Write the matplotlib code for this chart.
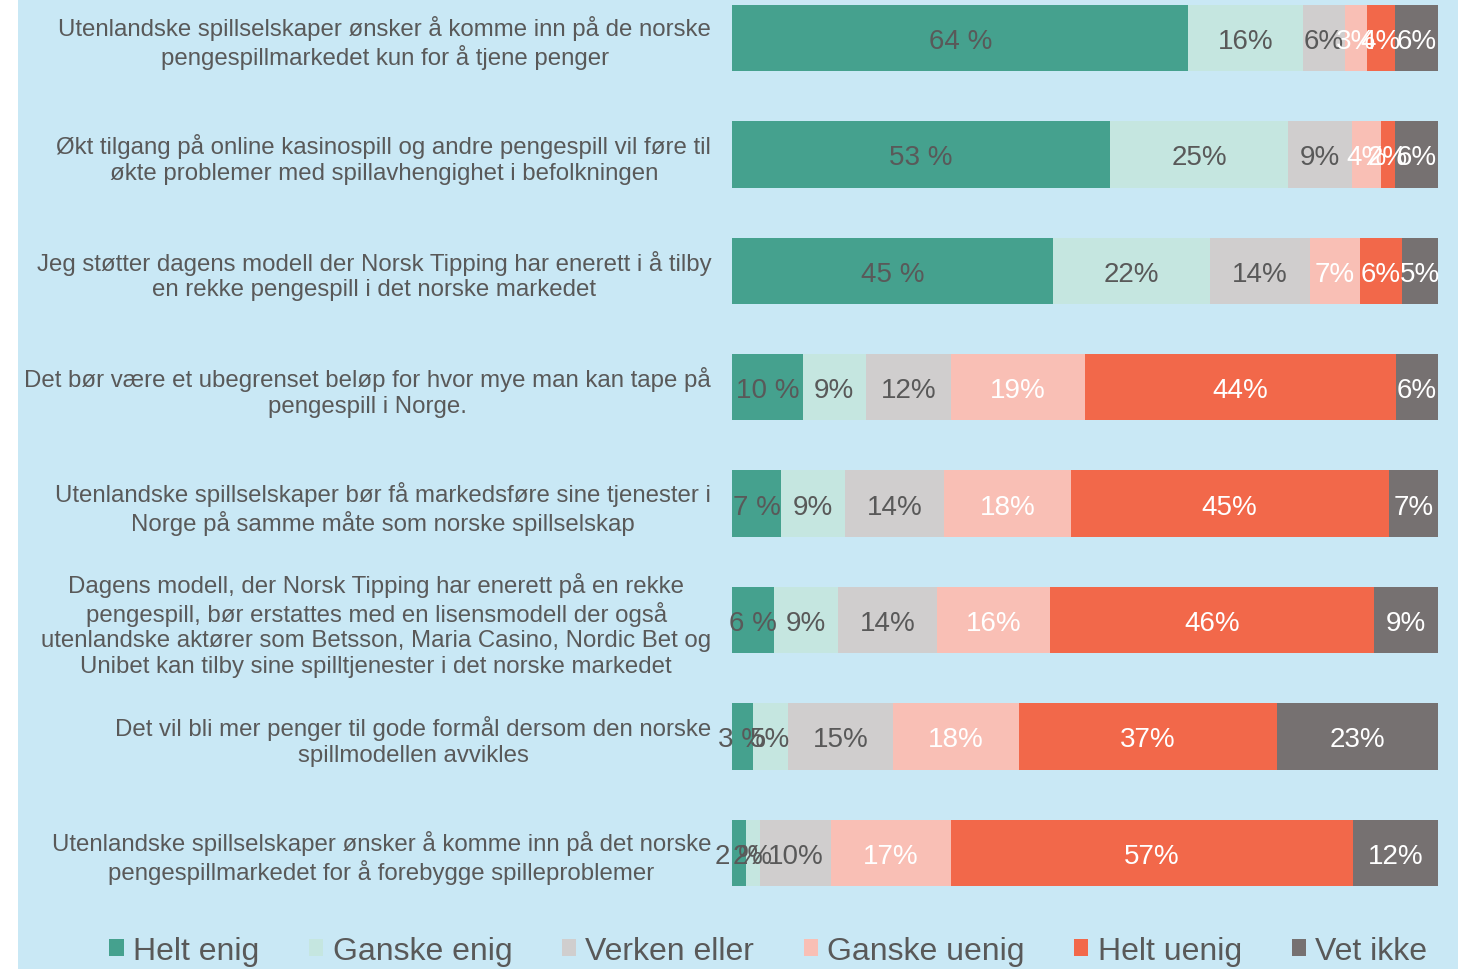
import numpy as np
import matplotlib.pyplot as plt
from matplotlib.patches import Rectangle

plt.rcParams['font.family'] = ['Liberation Sans', 'DejaVu Sans']

categories = [
    "Utenlandske spillselskaper ønsker å komme inn på de norske\npengespillmarkedet kun for å tjene penger",
    "Økt tilgang på online kasinospill og andre pengespill vil føre til\nøkte problemer med spillavhengighet i befolkningen",
    "Jeg støtter dagens modell der Norsk Tipping har enerett i å tilby\nen rekke pengespill i det norske markedet",
    "Det bør være et ubegrenset beløp for hvor mye man kan tape på\npengespill i Norge.",
    "Utenlandske spillselskaper bør få markedsføre sine tjenester i\nNorge på samme måte som norske spillselskap",
    "Dagens modell, der Norsk Tipping har enerett på en rekke\npengespill, bør erstattes med en lisensmodell der også\nutenlandske aktører som Betsson, Maria Casino, Nordic Bet og\nUnibet kan tilby sine spilltjenester i det norske markedet",
    "Det vil bli mer penger til gode formål dersom den norske\nspillmodellen avvikles",
    "Utenlandske spillselskaper ønsker å komme inn på det norske\npengespillmarkedet for å forebygge spilleproblemer",
]

series = ["Helt enig", "Ganske enig", "Verken eller", "Ganske uenig", "Helt uenig", "Vet ikke"]

helt_enig    = [64, 53, 45, 10, 7, 6, 3, 2]
ganske_enig  = [16, 25, 22, 9, 9, 9, 5, 2]
verken_eller = [6, 9, 14, 12, 14, 14, 15, 10]
ganske_uenig = [3, 4, 7, 19, 18, 16, 18, 17]
helt_uenig   = [4, 2, 6, 44, 45, 46, 37, 57]
vet_ikke     = [6, 6, 5, 6, 7, 9, 23, 12]

colors = ["#45A18E", "#C5E6E0", "#D0CECE", "#F9BFB5", "#F2684A", "#767171"]
text_colors = ["#595959", "#595959", "#595959", "white", "white", "white"]
suffix = [" %", "%", "%", "%", "%", "%"]

data = np.array([helt_enig, ganske_enig, verken_eller, ganske_uenig, helt_uenig, vet_ikke], dtype=float)
# 100 % stacked: scale every row to its total
shares = data / data.sum(axis=0) * 100

fig = plt.figure(figsize=(14.58, 9.70), dpi=100)
# light blue panel behind everything, white strip on the far left
fig.patches.append(Rectangle((18 / 1458, 0), 1, 1, transform=fig.transFigure,
                             facecolor="#C9E8F5", edgecolor="none", zorder=-10))

ax = fig.add_axes([732 / 1458, 1 - 900 / 970, 706 / 1458, 900 / 970])
ax.set_facecolor("none")
ax.set_zorder(5)

y = np.arange(len(categories))
left = np.zeros(len(categories))
for k, name in enumerate(series):
    ax.barh(y, shares[k], left=left, height=0.57, color=colors[k], label=name, edgecolor="none")
    for i in range(len(categories)):
        ax.text(left[i] + shares[k][i] / 2, y[i], f"{int(data[k][i])}{suffix[k]}",
                ha="center", va="center_baseline", fontsize=20, color=text_colors[k])
    left += shares[k]

ax.set_xlim(0, 100)
ax.set_ylim(7.397, -0.335)
ax.set_yticks(y)
ax.set_yticklabels(categories, fontsize=17.3, color="#595959", multialignment="center")
ax.tick_params(axis="y", length=0, pad=15)
ax.set_xticks([])
for s in ax.spines.values():
    s.set_visible(False)

leg = fig.legend(loc="center", bbox_to_anchor=(0.527, 0.0186), ncol=6, frameon=False,
                 fontsize=23, labelcolor="#595959", handlelength=0.44, handleheight=0.44,
                 handletextpad=0.3, columnspacing=1.55)
leg.set_zorder(6)

fig.savefig("out.png", dpi=100)
